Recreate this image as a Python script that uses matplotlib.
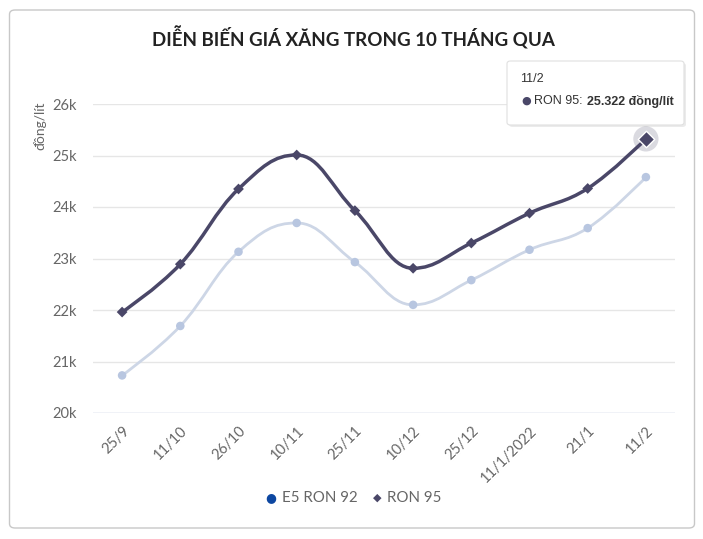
import numpy as np
import matplotlib
matplotlib.use("Agg")
import matplotlib.pyplot as plt
from matplotlib.path import Path
from matplotlib.patches import PathPatch, FancyBboxPatch

categories = ["25/9", "11/10", "26/10", "10/11", "25/11", "10/12", "25/12", "11/1/2022", "21/1", "11/2"]
e5_ron92 = [20.73, 21.69, 23.13, 23.69, 22.93, 22.10, 22.58, 23.17, 23.59, 24.58]
ron95 = [21.96, 22.89, 24.35, 25.01, 23.93, 22.81, 23.30, 23.88, 24.36, 25.322]
yticks = [20, 21, 22, 23, 24, 25, 26]
title = "DIỄN BIẾN GIÁ XĂNG TRONG 10 THÁNG QUA"

W, H = 703, 539
fig = plt.figure(figsize=(W / 100, H / 100), dpi=100)
fig.patch.set_facecolor("white")

# card border
card = FancyBboxPatch((9.5 / W, 11 / H), 685 / W, 518 / H,
                      boxstyle="round,pad=0,rounding_size=0.008",
                      transform=fig.transFigure, fill=False,
                      edgecolor="#c8c8c8", linewidth=1.0)
fig.patches.append(card)

left, right, top, bottom = 93, 675, 104, 413
ax = fig.add_axes([left / W, 1 - bottom / H, (right - left) / W, (bottom - top) / H])
ax.set_facecolor("none")
x = np.arange(len(categories))
ax.set_xlim(-0.5, len(categories) - 0.5)
ax.set_ylim(20, 26)


def spline_path(xs, ys, smoothing=1.5):
    n = len(xs)
    denom = smoothing + 1
    verts = [(xs[0], ys[0])]
    codes = [Path.MOVETO]
    ctrl = []
    for i in range(n):
        px, py = xs[i], ys[i]
        if 0 < i < n - 1:
            lx, ly = xs[i - 1], ys[i - 1]
            nx, ny = xs[i + 1], ys[i + 1]
            lcx = (smoothing * px + lx) / denom
            lcy = (smoothing * py + ly) / denom
            rcx = (smoothing * px + nx) / denom
            rcy = (smoothing * py + ny) / denom
            if rcx != lcx:
                corr = ((rcy - lcy) * (rcx - px)) / (rcx - lcx) + py - rcy
                lcy += corr
                rcy += corr
            if lcy > ly and lcy > py:
                lcy = max(ly, py)
                rcy = 2 * py - lcy
            elif lcy < ly and lcy < py:
                lcy = min(ly, py)
                rcy = 2 * py - lcy
            if rcy > ny and rcy > py:
                rcy = max(ny, py)
                lcy = 2 * py - rcy
            elif rcy < ny and rcy < py:
                rcy = min(ny, py)
                lcy = 2 * py - rcy
            ctrl.append(((lcx, lcy), (rcx, rcy)))
        else:
            ctrl.append(((px, py), (px, py)))
    for i in range(1, n):
        verts += [ctrl[i - 1][1], ctrl[i][0], (xs[i], ys[i])]
        codes += [Path.CURVE4] * 3
    return Path(verts, codes)


# grid
for t in yticks:
    ax.axhline(t, color="#e6e6e6", lw=1, zorder=0)
ax.axhline(20, color="#ccd6eb", lw=1, zorder=1)

for s in ax.spines.values():
    s.set_visible(False)

# E5 (faded)
ax.add_patch(PathPatch(spline_path(x, e5_ron92), fill=False, edgecolor="#cdd6e6", lw=2, zorder=2))
ax.scatter(x, e5_ron92, s=38, color="#b8c6e0", zorder=3, edgecolors="none")

# RON 95
ax.add_patch(PathPatch(spline_path(x, ron95), fill=False, edgecolor="#4a4768", lw=2.5, zorder=4))
ax.scatter(x, ron95, s=30, marker="D", color="#4a4768", zorder=5, edgecolors="none")

# hover halo + enlarged marker
ax.scatter([x[-1]], [ron95[-1]], s=330, color="#4a4768", alpha=0.2, zorder=4.5, edgecolors="none")
ax.scatter([x[-1]], [ron95[-1]], s=70, marker="D", color="#4a4768", zorder=6,
           edgecolors="white", linewidths=1)

ax.set_yticks(yticks)
ax.set_yticklabels([f"{t}k" for t in yticks], fontsize=10.5, color="#666666", family="Lato")
ax.tick_params(axis="y", length=0, pad=12)
ax.set_xticks(x)
ax.set_xticklabels(categories, rotation=45, ha="right", rotation_mode="anchor",
                   fontsize=10.5, color="#666666", family="Lato")
ax.tick_params(axis="x", length=0, pad=8)

fig.text(40 / W, 1 - 126 / H, "đồng/lít", rotation=90, ha="center", va="center",
         fontsize=10, color="#666666", family="Lato")

fig.text(353 / W, 1 - 38 / H, title, ha="center", va="center", fontsize=13.5,
         fontweight="bold", color="#222222", family="Lato")

# legend
fig.text(271 / W, 1 - 498 / H, "●", ha="center", va="center", fontsize=9, color="#0d47a1")
fig.text(282 / W, 1 - 498 / H, "E5 RON 92", ha="left", va="center", fontsize=10.8,
         color="#666666", family="Lato")
fig.text(377 / W, 1 - 498 / H, "◆", ha="center", va="center", fontsize=8, color="#4a4768",
         family="DejaVu Sans")
fig.text(387 / W, 1 - 498 / H, "RON 95", ha="left", va="center", fontsize=10.8,
         color="#666666", family="Lato")

# tooltip
shadow = FancyBboxPatch((509 / W, 1 - 127 / H), 177 / W, 64 / H,
                        boxstyle="round,pad=0,rounding_size=0.005",
                        transform=fig.transFigure, facecolor="#000000", alpha=0.08,
                        edgecolor="none", zorder=9)
fig.patches.append(shadow)
tip = FancyBboxPatch((507 / W, 1 - 125 / H), 177 / W, 64 / H,
                     boxstyle="round,pad=0,rounding_size=0.005",
                     transform=fig.transFigure, facecolor="white",
                     edgecolor="#e0e0e0", lw=0.8, zorder=10)
fig.patches.append(tip)
fig.text(520 / W, 1 - 79 / H, categories[-1], ha="left", va="center", fontsize=9,
         color="#333333", family="Liberation Sans", zorder=11)
fig.text(521 / W, 1 - 101 / H, "●", ha="left", va="center", fontsize=8,
         color="#4a4768", zorder=11)
fig.text(534 / W, 1 - 101 / H, "RON 95:", ha="left", va="center", fontsize=9,
         color="#333333", family="Liberation Sans", zorder=11)
fig.text(587 / W, 1 - 101 / H, f"{ron95[-1]:.3f} đồng/lít",
         ha="left", va="center", fontsize=9, fontweight="bold",
         color="#333333", family="Liberation Sans", zorder=11)

fig.savefig("out.png", dpi=100)
